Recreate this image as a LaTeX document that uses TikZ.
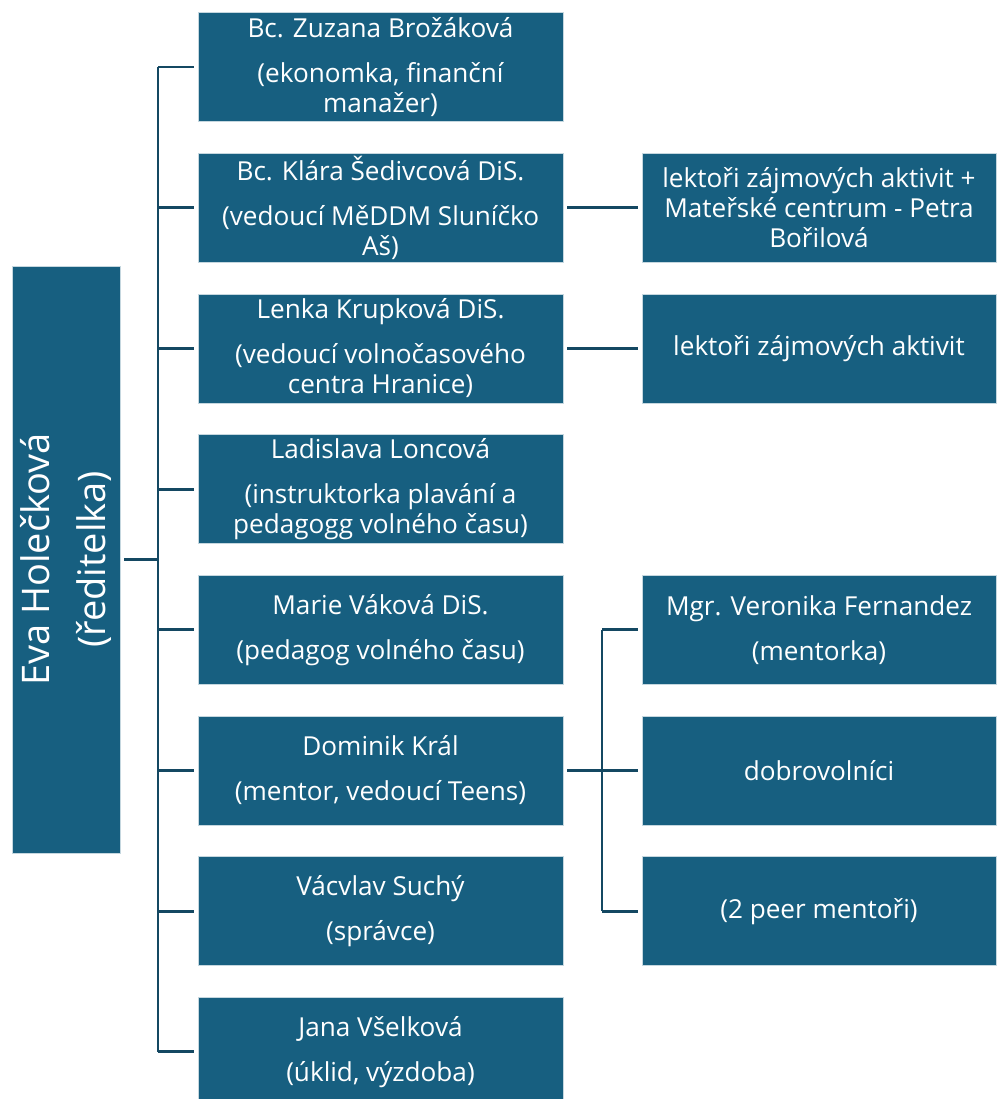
\documentclass[tikz,border=0pt]{standalone}
\usepackage{fontspec}
\setmainfont{Open Sans}
\definecolor{boxblue}{RGB}{23,95,128}
\definecolor{linkblue}{RGB}{20,72,98}
\tikzset{
  staff/.style={draw=white!75!boxblue,line width=0.6pt,fill=boxblue,text=white,align=center,
    font=\fontsize{19.6}{22.5}\selectfont,minimum width=273.75pt,minimum height=81.75pt,inner sep=0pt},
  sub/.style={staff,minimum width=265.5pt},
  link/.style={draw=linkblue,line width=2.2pt}
}
\begin{document}
\begin{tikzpicture}[x=0.75pt,y=-0.75pt]
\useasboundingbox (0,0) rectangle (996,1099);
\node [staff,rotate=90,minimum width=440.25pt,minimum height=81pt,font=\fontsize{28.5}{42}\selectfont] (eva) at (66,559.5) {Eva Holečková\\(ředitelka)};
\coordinate (bus) at (158,0);
\coordinate (mbus) at (602,0);
% left column
\node [staff] (s1) at (380.5,67) {Bc. Zuzana Brožáková\\[11.25pt](ekonomka, finanční\\manažer)};
\node [staff] (s2) at (380.5,207.7) {Bc. Klára Šedivcová DiS.\\[11.25pt](vedoucí MěDDM Sluníčko\\Aš)};
\node [staff] (s3) at (380.5,348.4) {Lenka Krupková DiS.\\[11.25pt](vedoucí volnočasového\\centra Hranice)};
\node [staff] (s4) at (380.5,489.1) {Ladislava Loncová\\[11.25pt](instruktorka plavání a\\pedagogg volného času)};
\node [staff] (s5) at (380.5,629.8) {Marie Váková DiS.\\[11.25pt](pedagog volného času)};
\node [staff] (s6) at (380.5,770.5) {Dominik Král\\[11.25pt](mentor, vedoucí Teens)};
\node [staff] (s7) at (380.5,911.2) {Vácvlav Suchý\\[11.25pt](správce)};
\node [staff] (s8) at (380.5,1051.9) {Jana Všelková\\[11.25pt](úklid, výzdoba)};
% right column
\node [sub] (r1) at (819,207.7) {lektoři zájmových aktivit +\\Mateřské centrum - Petra\\Bořilová};
\node [sub] (r2) at (819,348.4) {lektoři zájmových aktivit};
\node [sub] (m1) at (819,629.8) {Mgr. Veronika Fernandez\\[11.25pt](mentorka)};
\node [sub] (m2) at (819,770.5) {dobrovolníci};
\node [sub] (m3) at (819,911.2) {(2 peer mentoři)};
% connectors
\draw [link,shorten <=3pt] (eva.south) -- (eva.south -| bus);
\draw [link] (s1.west -| bus) -- (s8.west -| bus);
\foreach \i in {1,...,8}
  \draw [link,shorten >=3pt] (s\i.west -| bus) -- (s\i.west);
\draw [link,shorten <=3pt,shorten >=3pt] (s2.east) -- (r1.west);
\draw [link,shorten <=3pt,shorten >=3pt] (s3.east) -- (r2.west);
\draw [link,shorten <=3pt,shorten >=3pt] (s6.east) -- (m2.west);
\draw [link] (m1.west -| mbus) -- (m3.west -| mbus);
\draw [link,shorten >=3pt] (m1.west -| mbus) -- (m1.west);
\draw [link,shorten >=3pt] (m3.west -| mbus) -- (m3.west);
\end{tikzpicture}
\end{document}
